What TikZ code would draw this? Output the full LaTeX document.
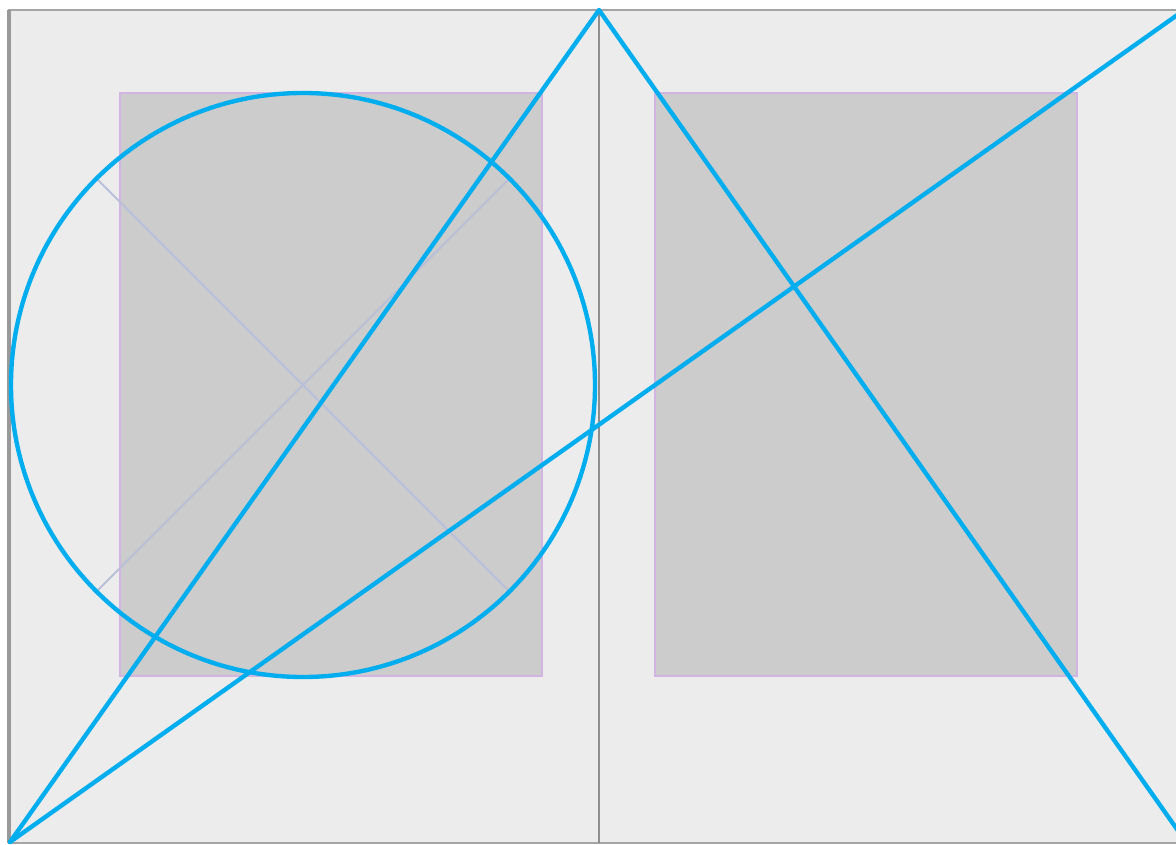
\documentclass[tikz,border=0pt]{standalone}
\usetikzlibrary{positioning}
\definecolor{pagegray}{HTML}{ECECEC}
\definecolor{blockgray}{HTML}{CCCCCC}
\definecolor{blockedge}{HTML}{D2B4E2}
\definecolor{spinegray}{HTML}{8E8E8E}
\definecolor{canonblue}{HTML}{00ADEE}
\definecolor{faintblue}{HTML}{B9BFD9}
\tikzset{
  pagebox/.style={fill=pagegray,draw=spinegray!80,line width=1.5pt},
  textblock/.style={fill=blockgray,draw=blockedge,line width=1.2pt},
  construct/.style={draw=canonblue,line width=3.1pt,line cap=round,line join=round},
  guide/.style={draw=faintblue,line width=1.4pt}
}
\begin{document}
\begin{tikzpicture}[x=0.025cm,y=-0.025cm]
  \useasboundingbox (0,0) rectangle (1176,845);
  \clip (0,0) rectangle (1176,845);
  \fill[white] (0,0) rectangle (1176,845);

  % spread and spine
  \draw[pagebox] (9,10) rectangle (1200,843);
  \draw[spinegray!90,line width=2.2pt] (9,10) -- (9,843);
  \coordinate (spinetop) at (599,10);
  \coordinate (spinefoot) at (599,843);
  \draw[spinegray,line width=1.9pt] (spinetop) -- (spinefoot);

  % text blocks
  \foreach \x/\n in {120/left, 655/right}{
    \draw[textblock] (\x,93) rectangle ++(422,583) coordinate (\n block);
  }

  % circle and its inscribed diagonals
  \coordinate (centre) at (303,385);
  \foreach \a in {45,135,225,315}{
    \draw[guide] (centre) -- ++(\a:292);
  }
  \draw[construct] (centre) circle[radius=292];

  % diagonals of the spread
  \coordinate (footleft) at (10,842);
  \coordinate (headright) at (1190,6);
  \coordinate (footright) at (1186,842);
  \draw[construct] (footleft) -- (spinetop) -- (footright);
  \draw[construct] (footleft) -- (headright);
\end{tikzpicture}
\end{document}
